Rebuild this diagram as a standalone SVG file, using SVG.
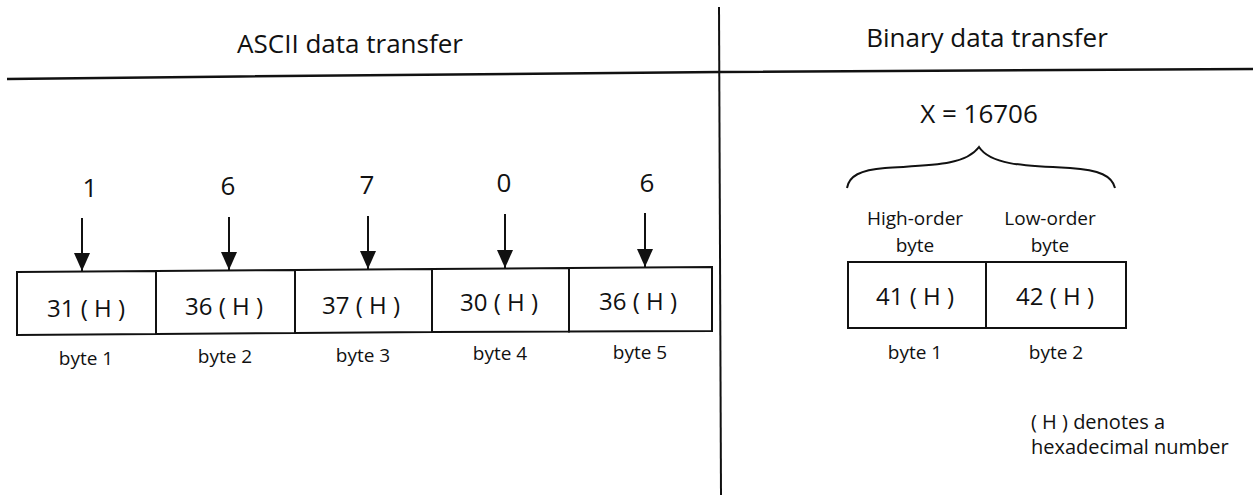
<svg xmlns="http://www.w3.org/2000/svg" width="1253" height="495" viewBox="0 0 1253 495">
<defs>
<style>
text{font-family:"Open Sans","Noto Sans","Liberation Sans",sans-serif;fill:#111}
.hd{font-size:26px;text-anchor:middle}
.num{font-size:26px;text-anchor:middle}
.hx{font-size:24px;text-anchor:middle}
.lb{font-size:19px;text-anchor:middle}
.nt{font-size:20px}
.ln{stroke:#111;fill:none}
.bx{stroke:#111;stroke-width:2;fill:#fff}
.ar{stroke:#111;stroke-width:2;fill:none}
</style>
<marker id="ah" viewBox="0 0 18 16" refX="18" refY="8" markerWidth="18" markerHeight="16" markerUnits="userSpaceOnUse" orient="auto">
<path d="M0,0 L18,8 L0,16 Z" fill="#111"/>
</marker>
</defs>
<rect width="1253" height="495" fill="#fff"/>

<g id="frame">
<polyline class="ln" points="7,79 240,76.5 720,72 1253,69" stroke-width="2.5"/>
<line class="ln" x1="719" y1="7" x2="721" y2="495" stroke-width="2"/>
<text class="hd" x="350" y="53">ASCII data transfer</text>
<text class="hd" x="987" y="47">Binary data transfer</text>
</g>

<g id="connectors">
<line class="ar" x1="82" y1="218" x2="82" y2="271" marker-end="url(#ah)"/>
<line class="ar" x1="229" y1="217" x2="229" y2="270" marker-end="url(#ah)"/>
<line class="ar" x1="368" y1="216" x2="368" y2="269" marker-end="url(#ah)"/>
<line class="ar" x1="505" y1="214" x2="505" y2="268" marker-end="url(#ah)"/>
<line class="ar" x1="645" y1="213" x2="645" y2="267" marker-end="url(#ah)"/>
</g>

<g id="ascii-digits">
<text class="num" x="90" y="197">1</text>
<text class="num" x="228" y="195">6</text>
<text class="num" x="367" y="194">7</text>
<text class="num" x="504" y="192">0</text>
<text class="num" x="647" y="192">6</text>
</g>

<g id="ascii-byte1">
<path class="bx" d="M17,272 L156,271 L156,334 L17,335 Z"/>
<text class="hx" x="86" y="317">31 ( H )</text>
<text class="lb" x="86" y="365">byte 1</text>
</g>
<g id="ascii-byte2">
<path class="bx" d="M156,271 L295,270 L295,333 L156,334 Z"/>
<text class="hx" x="224" y="315">36 ( H )</text>
<text class="lb" x="225" y="363">byte 2</text>
</g>
<g id="ascii-byte3">
<path class="bx" d="M295,270 L432,269 L432,332 L295,333 Z"/>
<text class="hx" x="361" y="314">37 ( H )</text>
<text class="lb" x="363" y="362">byte 3</text>
</g>
<g id="ascii-byte4">
<path class="bx" d="M432,269 L569,268 L569,331.5 L432,332 Z"/>
<text class="hx" x="499" y="311">30 ( H )</text>
<text class="lb" x="500" y="360">byte 4</text>
</g>
<g id="ascii-byte5">
<path class="bx" d="M569,268 L712,267 L712,331 L569,331.5 Z"/>
<text class="hx" x="638" y="310">36 ( H )</text>
<text class="lb" x="640" y="359">byte 5</text>
</g>

<g id="binary-value">
<text class="num" x="979" y="123">X = 16706</text>
<path class="ln" stroke-width="2" d="M847,188 C849,176 860,170 885,168 C930,165 965,166 979,147 C990,164 1020,166 1070,168 C1100,170 1112,176 1115,188"/>
</g>

<g id="binary-byte1">
<text class="lb" x="915" y="225">High-order</text>
<text class="lb" x="915" y="252">byte</text>
<rect class="bx" x="848" y="262" width="138" height="66"/>
<text class="hx" x="915" y="305">41 ( H )</text>
<text class="lb" x="915" y="359">byte 1</text>
</g>
<g id="binary-byte2">
<text class="lb" x="1050" y="225">Low-order</text>
<text class="lb" x="1050" y="252">byte</text>
<rect class="bx" x="986" y="262" width="140" height="66"/>
<text class="hx" x="1055" y="305">42 ( H )</text>
<text class="lb" x="1056" y="359">byte 2</text>
</g>

<g id="note">
<text class="nt" x="1031" y="429">( H ) denotes a</text>
<text class="nt" x="1031" y="454">hexadecimal number</text>
</g>
</svg>
